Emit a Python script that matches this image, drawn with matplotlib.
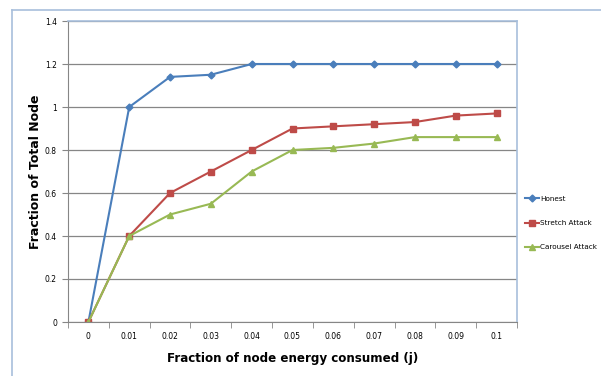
import matplotlib.pyplot as plt
import numpy as np
from matplotlib.lines import Line2D

x_labels = ['0', '0.01', '0.02', '0.03', '0.04', '0.05', '0.06', '0.07', '0.08', '0.09', '0.1']
honest = [0, 1.0, 1.14, 1.15, 1.2, 1.2, 1.2, 1.2, 1.2, 1.2, 1.2]
stretch = [0, 0.4, 0.6, 0.7, 0.8, 0.9, 0.91, 0.92, 0.93, 0.96, 0.97]
carousel = [0, 0.4, 0.5, 0.55, 0.7, 0.8, 0.81, 0.83, 0.86, 0.86, 0.86]
y_ticks = [0, 0.2, 0.4, 0.6, 0.8, 1, 1.2, 1.4]
y_labels = ['0', '0.2', '0.4', '0.6', '0.8', '1', '1.2', '1.4']

W, H = 601, 376
fig = plt.figure(figsize=(W/100, H/100), dpi=100)
ax = fig.add_axes([68/W, 1-322/H, (517-68)/W, (322-21)/H])

xs = np.arange(len(x_labels))
ax.plot(xs, honest, color='#4a7ebb', lw=1.5, marker='D', ms=3.5, label='Honest')
ax.plot(xs, stretch, color='#be4b48', lw=1.5, marker='s', ms=5, label='Stretch Attack')
ax.plot(xs, carousel, color='#98b954', lw=1.5, marker='^', ms=5, label='Carousel Attack')

ax.set_xlim(-0.5, 10.5)
ax.set_ylim(0, 1.4)
ax.set_yticks(y_ticks)
ax.set_yticklabels(y_labels, fontsize=5.5)
ax.set_xticks(xs)
ax.set_xticklabels(x_labels, fontsize=5.5)
ax.set_xticks(np.arange(-0.5, 11, 1), minor=True)
ax.tick_params(axis='x', which='major', length=0, pad=7)
ax.tick_params(axis='x', which='minor', length=4, color='#868686')
ax.tick_params(axis='y', length=4, color='#868686', pad=4)
ax.grid(axis='y', color='#868686', lw=0.9)
ax.set_axisbelow(True)
for s in ['left', 'bottom']:
    ax.spines[s].set_color('#868686')
for s in ['top', 'right']:
    ax.spines[s].set_color('#a8bfdc')
    ax.spines[s].set_linewidth(1.2)

ax.set_ylabel('Fraction of Total Node', fontsize=9, fontweight='bold', labelpad=2)
ax.set_xlabel('Fraction of node energy consumed (j)', fontsize=8.6, fontweight='bold', labelpad=8)

# outer chart border (left/top)
fig.add_artist(Line2D([12/W, 12/W], [0, 1-10/H], color='#a8bfdc', lw=1.2))
fig.add_artist(Line2D([12/W, 1], [1-10/H, 1-10/H], color='#a8bfdc', lw=1.2))

leg = fig.legend(loc='upper left', bbox_to_anchor=(522/W, 1-193/H), frameon=False,
                 fontsize=5.2, handlelength=2.0, handletextpad=0.1, labelspacing=2.5,
                 borderaxespad=0)

fig.savefig('out.png', dpi=100)
